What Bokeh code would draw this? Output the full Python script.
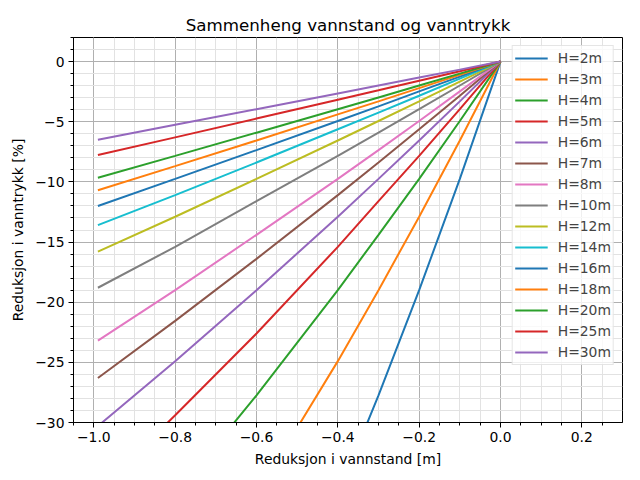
from bokeh.plotting import figure
from bokeh.embed import file_html
from bokeh.resources import INLINE
from bokeh.models import Range1d, SingleIntervalTicker, CustomJSTickFormatter, Legend, LegendItem

# Data
x_vals = [-0.99, -0.8, -0.6, -0.4, -0.3, -0.2, -0.1, 0.0]
labels = ["H=2m", "H=3m", "H=4m", "H=5m", "H=6m", "H=7m", "H=8m", "H=10m",
          "H=12m", "H=14m", "H=16m", "H=18m", "H=20m", "H=25m", "H=30m"]
y_H2 = [-74.5, -64.0, -51.0, -36.0, -27.75, -19.0, -9.75, 0.0]
y_H3 = [-55.1, -46.2, -36.0, -24.9, -19.0, -12.9, -6.56, 0.0]
y_H4 = [-43.4, -36.0, -27.75, -19.0, -14.4, -9.75, -4.94, 0.0]
y_H5 = [-35.7, -29.4, -22.6, -15.4, -11.6, -7.84, -3.96, 0.0]
y_H6 = [-30.3, -24.9, -19.0, -12.9, -9.75, -6.56, -3.31, 0.0]
y_H7 = [-26.3, -21.55, -16.4, -11.1, -8.39, -5.63, -2.84, 0.0]
y_H8 = [-23.2, -19.0, -14.4, -9.75, -7.36, -4.94, -2.48, 0.0]
y_H10 = [-18.8, -15.4, -11.6, -7.84, -5.91, -3.96, -1.99, 0.0]
y_H12 = [-15.8, -12.9, -9.75, -6.56, -4.94, -3.31, -1.66, 0.0]
y_H14 = [-13.6, -11.1, -8.39, -5.63, -4.24, -2.84, -1.42, 0.0]
y_H16 = [-12.0, -9.75, -7.36, -4.94, -3.72, -2.48, -1.25, 0.0]
y_H18 = [-10.7, -8.69, -6.56, -4.39, -3.31, -2.21, -1.11, 0.0]
y_H20 = [-9.65, -7.84, -5.91, -3.96, -2.98, -1.99, -1.0, 0.0]
y_H25 = [-7.76, -6.3, -4.74, -3.17, -2.39, -1.59, -0.8, 0.0]
y_H30 = [-6.49, -5.26, -3.96, -2.65, -1.99, -1.33, -0.67, 0.0]
series = [y_H2, y_H3, y_H4, y_H5, y_H6, y_H7, y_H8, y_H10,
          y_H12, y_H14, y_H16, y_H18, y_H20, y_H25, y_H30]

colors = ["#1f77b4", "#ff7f0e", "#2ca02c", "#d62728", "#9467bd",
          "#8c564b", "#e377c2", "#7f7f7f", "#bcbd22", "#17becf"]

FONT = "DejaVu Sans"

p = figure(frame_width=549, frame_height=385, output_backend="svg", toolbar_location=None,
           x_range=Range1d(-1.05, 0.3), y_range=Range1d(-30, 2),
           min_border_left=73, min_border_right=10, min_border_top=37, min_border_bottom=50)
p.title.text = "Sammenheng vannstand og vanntrykk"
p.title.align = "center"
p.title.text_font = FONT
p.title.text_font_size = "16.7px"
p.title.text_font_style = "normal"
p.title.text_color = "black"
p.title.standoff = 6

p.outline_line_color = "black"
p.outline_line_width = 1
p.background_fill_color = "white"
p.border_fill_color = "white"

p.xaxis.ticker = SingleIntervalTicker(interval=0.2, num_minor_ticks=4)
p.yaxis.ticker = SingleIntervalTicker(interval=5, num_minor_ticks=5)
p.xaxis.formatter = CustomJSTickFormatter(code="var v = Math.round(tick*10)/10; return (v < 0 ? '\u2212' : '') + Math.abs(v).toFixed(1);")
p.yaxis.formatter = CustomJSTickFormatter(code="var v = Math.round(tick); return (v < 0 ? '\u2212' : '') + Math.abs(v).toFixed(0);")

for ax in [p.xaxis[0], p.yaxis[0]]:
    ax.axis_line_color = "black"
    ax.major_tick_line_color = "black"
    ax.minor_tick_line_color = "black"
    ax.major_tick_in = 0
    ax.major_tick_out = 5
    ax.minor_tick_in = 0
    ax.minor_tick_out = 3
    ax.major_label_text_font = FONT
    ax.major_label_text_font_size = "13.9px"
    ax.major_label_text_color = "black"
    ax.axis_label_text_font = FONT
    ax.axis_label_text_font_size = "13.9px"
    ax.axis_label_text_font_style = "normal"
    ax.axis_label_text_color = "black"
    ax.major_label_standoff = 4
    ax.axis_label_standoff = 6

p.xaxis.axis_label = "Reduksjon i vannstand [m]"
p.yaxis.axis_label = "Reduksjon i vanntrykk [%]"

for g in [p.xgrid[0], p.ygrid[0]]:
    g.grid_line_color = "#b0b0b0"
    g.grid_line_width = 1
    g.minor_grid_line_color = "#e2e2e2"
    g.minor_grid_line_width = 1

items = []
for i, (lab, ys) in enumerate(zip(labels, series)):
    r = p.line(x_vals, ys, line_color=colors[i % 10], line_width=2)
    items.append(LegendItem(label=lab, renderers=[r]))

legend = Legend(items=items, location="top_right")
legend.label_text_font = FONT
legend.label_text_font_size = "13.9px"
legend.glyph_width = 33
legend.glyph_height = 20
legend.label_height = 20
legend.label_standoff = 10
legend.spacing = 1
legend.padding = 2
legend.margin = 8
legend.border_line_color = "#cccccc"
legend.background_fill_alpha = 0.8
p.add_layout(legend)

open("out.html", "w").write(file_html(p, INLINE))
